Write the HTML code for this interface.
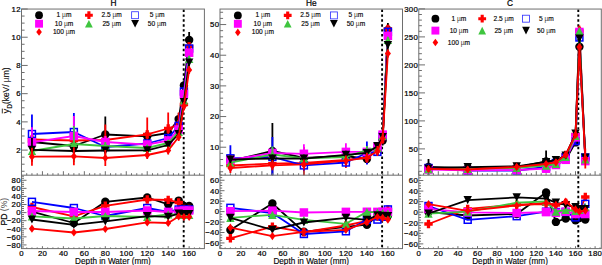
<!DOCTYPE html><html><head><meta charset="utf-8"><style>html,body{margin:0;padding:0;background:#fff;}svg{display:block;}text{font-family:"Liberation Sans", sans-serif;fill:#000;stroke:#000;stroke-width:0.22px;}.ls{letter-spacing:0.3px;}.lg{stroke-width:0.14px;}.mu{stroke-width:0;fill:#333;}</style></head><body>
<svg width="602" height="265" viewBox="0 0 602 265">
<rect width="602" height="265" fill="#fff"/>
<clipPath id="cu0"><rect x="21.5" y="9.05" width="182.9" height="166.14999999999998"/></clipPath>
<clipPath id="cl0"><rect x="21.5" y="175.2" width="182.9" height="73.4"/></clipPath>
<line x1="183.7" y1="9.55" x2="183.7" y2="248.6" stroke="#000" stroke-width="1.9" stroke-dasharray="2.4 2.5"/>
<g clip-path="url(#cu0)">
<polyline points="31.95,142 73.87,146 105.31,134.5 147.23,136.3 168.19,133 178.67,119.1 183.91,85.5 189.15,40" fill="none" stroke="#000000" stroke-width="1.8" stroke-linejoin="round"/>
<line x1="31.95" y1="136" x2="31.95" y2="148" stroke="#000000" stroke-width="1.8"/>
<line x1="73.87" y1="140" x2="73.87" y2="152" stroke="#000000" stroke-width="1.8"/>
<line x1="105.31" y1="116.5" x2="105.31" y2="152.5" stroke="#000000" stroke-width="1.8"/>
<line x1="147.23" y1="130.3" x2="147.23" y2="142.3" stroke="#000000" stroke-width="1.8"/>
<line x1="168.19" y1="128" x2="168.19" y2="138" stroke="#000000" stroke-width="1.8"/>
<line x1="178.67" y1="113.1" x2="178.67" y2="125.1" stroke="#000000" stroke-width="1.8"/>
<line x1="183.91" y1="81.5" x2="183.91" y2="89.5" stroke="#000000" stroke-width="1.8"/>
<line x1="189.15" y1="32" x2="189.15" y2="48" stroke="#000000" stroke-width="1.8"/>
<circle cx="31.95" cy="142" r="4.21" fill="#000000"/>
<circle cx="73.87" cy="146" r="4.21" fill="#000000"/>
<circle cx="105.31" cy="134.5" r="4.21" fill="#000000"/>
<circle cx="147.23" cy="136.3" r="4.21" fill="#000000"/>
<circle cx="168.19" cy="133" r="4.21" fill="#000000"/>
<circle cx="178.67" cy="119.1" r="4.21" fill="#000000"/>
<circle cx="183.91" cy="85.5" r="4.21" fill="#000000"/>
<circle cx="189.15" cy="40" r="4.21" fill="#000000"/>
<polyline points="31.95,139.5 73.87,140.5 105.31,140 147.23,134.4 168.19,128.5 178.67,124.5 183.91,104.5 189.15,46.5" fill="none" stroke="#ff0000" stroke-width="1.8" stroke-linejoin="round"/>
<line x1="31.95" y1="134.5" x2="31.95" y2="144.5" stroke="#ff0000" stroke-width="1.8"/>
<line x1="73.87" y1="135.5" x2="73.87" y2="145.5" stroke="#ff0000" stroke-width="1.8"/>
<line x1="105.31" y1="124.5" x2="105.31" y2="155.5" stroke="#ff0000" stroke-width="1.8"/>
<line x1="147.23" y1="117.4" x2="147.23" y2="151.4" stroke="#ff0000" stroke-width="1.8"/>
<line x1="168.19" y1="112.5" x2="168.19" y2="144.5" stroke="#ff0000" stroke-width="1.8"/>
<line x1="178.67" y1="112.5" x2="178.67" y2="136.5" stroke="#ff0000" stroke-width="1.8"/>
<line x1="183.91" y1="98.5" x2="183.91" y2="110.5" stroke="#ff0000" stroke-width="1.8"/>
<line x1="189.15" y1="42.5" x2="189.15" y2="50.5" stroke="#ff0000" stroke-width="1.8"/>
<path d="M30.28,135.29H33.62V137.83H36.16V141.17H33.62V143.71H30.28V141.17H27.74V137.83H30.28Z" fill="#ff0000"/>
<path d="M72.2,136.29H75.54V138.83H78.08V142.17H75.54V144.71H72.2V142.17H69.66V138.83H72.2Z" fill="#ff0000"/>
<path d="M103.64,135.79H106.98V138.33H109.52V141.67H106.98V144.21H103.64V141.67H101.1V138.33H103.64Z" fill="#ff0000"/>
<path d="M145.56,130.19H148.9V132.73H151.44V136.07H148.9V138.61H145.56V136.07H143.02V132.73H145.56Z" fill="#ff0000"/>
<path d="M166.52,124.29H169.86V126.83H172.4V130.17H169.86V132.71H166.52V130.17H163.98V126.83H166.52Z" fill="#ff0000"/>
<path d="M177,120.29H180.34V122.83H182.88V126.17H180.34V128.71H177V126.17H174.46V122.83H177Z" fill="#ff0000"/>
<path d="M182.24,100.29H185.58V102.83H188.12V106.17H185.58V108.71H182.24V106.17H179.7V102.83H182.24Z" fill="#ff0000"/>
<path d="M187.48,42.29H190.82V44.83H193.36V48.17H190.82V50.71H187.48V48.17H184.94V44.83H187.48Z" fill="#ff0000"/>
<polyline points="31.95,134 73.87,132 105.31,147 147.23,143.5 168.19,138 178.67,125.8 183.91,91.5 189.15,48.5" fill="none" stroke="#0000ff" stroke-width="1.8" stroke-linejoin="round"/>
<line x1="31.95" y1="114.5" x2="31.95" y2="153.5" stroke="#0000ff" stroke-width="1.8"/>
<line x1="73.87" y1="113" x2="73.87" y2="151" stroke="#0000ff" stroke-width="1.8"/>
<line x1="105.31" y1="143" x2="105.31" y2="151" stroke="#0000ff" stroke-width="1.8"/>
<line x1="147.23" y1="140.5" x2="147.23" y2="146.5" stroke="#0000ff" stroke-width="1.8"/>
<line x1="168.19" y1="135" x2="168.19" y2="141" stroke="#0000ff" stroke-width="1.8"/>
<line x1="178.67" y1="122.8" x2="178.67" y2="128.8" stroke="#0000ff" stroke-width="1.8"/>
<line x1="183.91" y1="88.5" x2="183.91" y2="94.5" stroke="#0000ff" stroke-width="1.8"/>
<line x1="189.15" y1="45.5" x2="189.15" y2="51.5" stroke="#0000ff" stroke-width="1.8"/>
<rect x="28.49" y="130.54" width="6.92" height="6.92" fill="none" stroke="#0000ff" stroke-width="1.5"/>
<rect x="70.41" y="128.54" width="6.92" height="6.92" fill="none" stroke="#0000ff" stroke-width="1.5"/>
<rect x="101.85" y="143.54" width="6.92" height="6.92" fill="none" stroke="#0000ff" stroke-width="1.5"/>
<rect x="143.77" y="140.04" width="6.92" height="6.92" fill="none" stroke="#0000ff" stroke-width="1.5"/>
<rect x="164.73" y="134.54" width="6.92" height="6.92" fill="none" stroke="#0000ff" stroke-width="1.5"/>
<rect x="175.21" y="122.34" width="6.92" height="6.92" fill="none" stroke="#0000ff" stroke-width="1.5"/>
<rect x="180.45" y="88.04" width="6.92" height="6.92" fill="none" stroke="#0000ff" stroke-width="1.5"/>
<rect x="185.69" y="45.04" width="6.92" height="6.92" fill="none" stroke="#0000ff" stroke-width="1.5"/>
<polyline points="31.95,142.3 73.87,136 105.31,142 147.23,144.6 168.19,140.5 178.67,129.5 183.91,94 189.15,52.7" fill="none" stroke="#ff00ff" stroke-width="1.8" stroke-linejoin="round"/>
<line x1="31.95" y1="127.3" x2="31.95" y2="157.3" stroke="#ff00ff" stroke-width="1.8"/>
<line x1="73.87" y1="116" x2="73.87" y2="156" stroke="#ff00ff" stroke-width="1.8"/>
<line x1="105.31" y1="136" x2="105.31" y2="148" stroke="#ff00ff" stroke-width="1.8"/>
<line x1="147.23" y1="140.6" x2="147.23" y2="148.6" stroke="#ff00ff" stroke-width="1.8"/>
<line x1="168.19" y1="136.5" x2="168.19" y2="144.5" stroke="#ff00ff" stroke-width="1.8"/>
<line x1="178.67" y1="125.5" x2="178.67" y2="133.5" stroke="#ff00ff" stroke-width="1.8"/>
<line x1="183.91" y1="90" x2="183.91" y2="98" stroke="#ff00ff" stroke-width="1.8"/>
<line x1="189.15" y1="48.7" x2="189.15" y2="56.7" stroke="#ff00ff" stroke-width="1.8"/>
<rect x="27.68" y="138.03" width="8.53" height="8.53" fill="#ff00ff"/>
<rect x="69.6" y="131.73" width="8.53" height="8.53" fill="#ff00ff"/>
<rect x="101.04" y="137.73" width="8.53" height="8.53" fill="#ff00ff"/>
<rect x="142.96" y="140.33" width="8.53" height="8.53" fill="#ff00ff"/>
<rect x="163.92" y="136.23" width="8.53" height="8.53" fill="#ff00ff"/>
<rect x="174.4" y="125.23" width="8.53" height="8.53" fill="#ff00ff"/>
<rect x="179.64" y="89.73" width="8.53" height="8.53" fill="#ff00ff"/>
<rect x="184.88" y="48.43" width="8.53" height="8.53" fill="#ff00ff"/>
<polyline points="31.95,151 73.87,144 105.31,146 147.23,148 168.19,143 178.67,132 183.91,100.5 189.15,59" fill="none" stroke="#3fc53f" stroke-width="1.8" stroke-linejoin="round"/>
<line x1="31.95" y1="148" x2="31.95" y2="154" stroke="#3fc53f" stroke-width="1.8"/>
<line x1="73.87" y1="126" x2="73.87" y2="162" stroke="#3fc53f" stroke-width="1.8"/>
<line x1="105.31" y1="142" x2="105.31" y2="150" stroke="#3fc53f" stroke-width="1.8"/>
<line x1="147.23" y1="145" x2="147.23" y2="151" stroke="#3fc53f" stroke-width="1.8"/>
<line x1="168.19" y1="140" x2="168.19" y2="146" stroke="#3fc53f" stroke-width="1.8"/>
<line x1="178.67" y1="129" x2="178.67" y2="135" stroke="#3fc53f" stroke-width="1.8"/>
<line x1="183.91" y1="97.5" x2="183.91" y2="103.5" stroke="#3fc53f" stroke-width="1.8"/>
<line x1="189.15" y1="56" x2="189.15" y2="62" stroke="#3fc53f" stroke-width="1.8"/>
<path d="M31.95,146.9L36.16,155.1L27.74,155.1Z" fill="#3fc53f"/>
<path d="M73.87,139.9L78.08,148.1L69.66,148.1Z" fill="#3fc53f"/>
<path d="M105.31,141.9L109.52,150.1L101.1,150.1Z" fill="#3fc53f"/>
<path d="M147.23,143.9L151.44,152.1L143.02,152.1Z" fill="#3fc53f"/>
<path d="M168.19,138.9L172.4,147.1L163.98,147.1Z" fill="#3fc53f"/>
<path d="M178.67,127.9L182.88,136.1L174.46,136.1Z" fill="#3fc53f"/>
<path d="M183.91,96.4L188.12,104.6L179.7,104.6Z" fill="#3fc53f"/>
<path d="M189.15,54.9L193.36,63.1L184.94,63.1Z" fill="#3fc53f"/>
<polyline points="31.95,149.8 73.87,151 105.31,150.5 147.23,150.3 168.19,145 178.67,134 183.91,102 189.15,62.5" fill="none" stroke="#000000" stroke-width="1.8" stroke-linejoin="round"/>
<line x1="31.95" y1="137.8" x2="31.95" y2="161.8" stroke="#000000" stroke-width="1.8"/>
<line x1="73.87" y1="148" x2="73.87" y2="154" stroke="#000000" stroke-width="1.8"/>
<line x1="105.31" y1="147.5" x2="105.31" y2="153.5" stroke="#000000" stroke-width="1.8"/>
<line x1="147.23" y1="147.3" x2="147.23" y2="153.3" stroke="#000000" stroke-width="1.8"/>
<line x1="168.19" y1="142" x2="168.19" y2="148" stroke="#000000" stroke-width="1.8"/>
<line x1="178.67" y1="131" x2="178.67" y2="137" stroke="#000000" stroke-width="1.8"/>
<line x1="183.91" y1="99" x2="183.91" y2="105" stroke="#000000" stroke-width="1.8"/>
<line x1="189.15" y1="59.5" x2="189.15" y2="65.5" stroke="#000000" stroke-width="1.8"/>
<path d="M27.74,145.7L36.16,145.7L31.95,153.9Z" fill="#000000"/>
<path d="M69.66,146.9L78.08,146.9L73.87,155.1Z" fill="#000000"/>
<path d="M101.1,146.4L109.52,146.4L105.31,154.6Z" fill="#000000"/>
<path d="M143.02,146.2L151.44,146.2L147.23,154.4Z" fill="#000000"/>
<path d="M163.98,140.9L172.4,140.9L168.19,149.1Z" fill="#000000"/>
<path d="M174.46,129.9L182.88,129.9L178.67,138.1Z" fill="#000000"/>
<path d="M179.7,97.9L188.12,97.9L183.91,106.1Z" fill="#000000"/>
<path d="M184.94,58.4L193.36,58.4L189.15,66.6Z" fill="#000000"/>
<polyline points="31.95,156.7 73.87,156.3 105.31,158 147.23,155 168.19,150.5 178.67,137 183.91,106 189.15,70" fill="none" stroke="#ff0000" stroke-width="1.8" stroke-linejoin="round"/>
<line x1="31.95" y1="147.7" x2="31.95" y2="165.7" stroke="#ff0000" stroke-width="1.8"/>
<line x1="73.87" y1="147.3" x2="73.87" y2="165.3" stroke="#ff0000" stroke-width="1.8"/>
<line x1="105.31" y1="150" x2="105.31" y2="166" stroke="#ff0000" stroke-width="1.8"/>
<line x1="147.23" y1="151" x2="147.23" y2="159" stroke="#ff0000" stroke-width="1.8"/>
<line x1="168.19" y1="146.5" x2="168.19" y2="154.5" stroke="#ff0000" stroke-width="1.8"/>
<line x1="178.67" y1="133" x2="178.67" y2="141" stroke="#ff0000" stroke-width="1.8"/>
<line x1="183.91" y1="102" x2="183.91" y2="110" stroke="#ff0000" stroke-width="1.8"/>
<line x1="189.15" y1="66" x2="189.15" y2="74" stroke="#ff0000" stroke-width="1.8"/>
<path d="M31.95,152.6L34.97,156.7L31.95,160.8L28.93,156.7Z" fill="#ff0000"/>
<path d="M73.87,152.2L76.89,156.3L73.87,160.4L70.85,156.3Z" fill="#ff0000"/>
<path d="M105.31,153.9L108.33,158L105.31,162.1L102.29,158Z" fill="#ff0000"/>
<path d="M147.23,150.9L150.25,155L147.23,159.1L144.21,155Z" fill="#ff0000"/>
<path d="M168.19,146.4L171.21,150.5L168.19,154.6L165.17,150.5Z" fill="#ff0000"/>
<path d="M178.67,132.9L181.69,137L178.67,141.1L175.65,137Z" fill="#ff0000"/>
<path d="M183.91,101.9L186.93,106L183.91,110.1L180.89,106Z" fill="#ff0000"/>
<path d="M189.15,65.9L192.17,70L189.15,74.1L186.13,70Z" fill="#ff0000"/>
</g>
<g clip-path="url(#cl0)">
<polyline points="31.95,211.7 73.87,223 105.31,201.8 147.23,197.5 168.19,204.3 178.67,200.6 183.91,206 189.15,206" fill="none" stroke="#000000" stroke-width="1.8" stroke-linejoin="round"/>
<circle cx="31.95" cy="211.7" r="4.21" fill="#000000"/>
<circle cx="73.87" cy="223" r="4.21" fill="#000000"/>
<circle cx="105.31" cy="201.8" r="4.21" fill="#000000"/>
<circle cx="147.23" cy="197.5" r="4.21" fill="#000000"/>
<circle cx="168.19" cy="204.3" r="4.21" fill="#000000"/>
<circle cx="178.67" cy="200.6" r="4.21" fill="#000000"/>
<circle cx="183.91" cy="206" r="4.21" fill="#000000"/>
<circle cx="189.15" cy="206" r="4.21" fill="#000000"/>
<polyline points="31.95,207 73.87,216.4 105.31,205.8 147.23,199.5 168.19,199.9 178.67,202.5 183.91,209 189.15,209" fill="none" stroke="#ff0000" stroke-width="1.8" stroke-linejoin="round"/>
<path d="M30.28,202.79H33.62V205.33H36.16V208.67H33.62V211.21H30.28V208.67H27.74V205.33H30.28Z" fill="#ff0000"/>
<path d="M72.2,212.19H75.54V214.73H78.08V218.07H75.54V220.61H72.2V218.07H69.66V214.73H72.2Z" fill="#ff0000"/>
<path d="M103.64,201.59H106.98V204.13H109.52V207.47H106.98V210.01H103.64V207.47H101.1V204.13H103.64Z" fill="#ff0000"/>
<path d="M145.56,195.29H148.9V197.83H151.44V201.17H148.9V203.71H145.56V201.17H143.02V197.83H145.56Z" fill="#ff0000"/>
<path d="M166.52,195.69H169.86V198.23H172.4V201.57H169.86V204.11H166.52V201.57H163.98V198.23H166.52Z" fill="#ff0000"/>
<path d="M177,198.29H180.34V200.83H182.88V204.17H180.34V206.71H177V204.17H174.46V200.83H177Z" fill="#ff0000"/>
<path d="M182.24,204.79H185.58V207.33H188.12V210.67H185.58V213.21H182.24V210.67H179.7V207.33H182.24Z" fill="#ff0000"/>
<path d="M187.48,204.79H190.82V207.33H193.36V210.67H190.82V213.21H187.48V210.67H184.94V207.33H187.48Z" fill="#ff0000"/>
<polyline points="31.95,201.8 73.87,208 105.31,216 147.23,208 168.19,212 178.67,209.5 183.91,209.5 189.15,209.5" fill="none" stroke="#0000ff" stroke-width="1.8" stroke-linejoin="round"/>
<rect x="28.49" y="198.34" width="6.92" height="6.92" fill="none" stroke="#0000ff" stroke-width="1.5"/>
<rect x="70.41" y="204.54" width="6.92" height="6.92" fill="none" stroke="#0000ff" stroke-width="1.5"/>
<rect x="101.85" y="212.54" width="6.92" height="6.92" fill="none" stroke="#0000ff" stroke-width="1.5"/>
<rect x="143.77" y="204.54" width="6.92" height="6.92" fill="none" stroke="#0000ff" stroke-width="1.5"/>
<rect x="164.73" y="208.54" width="6.92" height="6.92" fill="none" stroke="#0000ff" stroke-width="1.5"/>
<rect x="175.21" y="206.04" width="6.92" height="6.92" fill="none" stroke="#0000ff" stroke-width="1.5"/>
<rect x="180.45" y="206.04" width="6.92" height="6.92" fill="none" stroke="#0000ff" stroke-width="1.5"/>
<rect x="185.69" y="206.04" width="6.92" height="6.92" fill="none" stroke="#0000ff" stroke-width="1.5"/>
<polyline points="31.95,211 73.87,212 105.31,212 147.23,210.5 168.19,212 178.67,211 183.91,210.5 189.15,210.5" fill="none" stroke="#ff00ff" stroke-width="1.8" stroke-linejoin="round"/>
<rect x="27.68" y="206.73" width="8.53" height="8.53" fill="#ff00ff"/>
<rect x="69.6" y="207.73" width="8.53" height="8.53" fill="#ff00ff"/>
<rect x="101.04" y="207.73" width="8.53" height="8.53" fill="#ff00ff"/>
<rect x="142.96" y="206.23" width="8.53" height="8.53" fill="#ff00ff"/>
<rect x="163.92" y="207.73" width="8.53" height="8.53" fill="#ff00ff"/>
<rect x="174.4" y="206.73" width="8.53" height="8.53" fill="#ff00ff"/>
<rect x="179.64" y="206.23" width="8.53" height="8.53" fill="#ff00ff"/>
<rect x="184.88" y="206.23" width="8.53" height="8.53" fill="#ff00ff"/>
<polyline points="31.95,216.4 73.87,218.5 105.31,216 147.23,217 168.19,214.4 178.67,214.5 183.91,215 189.15,215" fill="none" stroke="#3fc53f" stroke-width="1.8" stroke-linejoin="round"/>
<path d="M31.95,212.3L36.16,220.5L27.74,220.5Z" fill="#3fc53f"/>
<path d="M73.87,214.4L78.08,222.6L69.66,222.6Z" fill="#3fc53f"/>
<path d="M105.31,211.9L109.52,220.1L101.1,220.1Z" fill="#3fc53f"/>
<path d="M147.23,212.9L151.44,221.1L143.02,221.1Z" fill="#3fc53f"/>
<path d="M168.19,210.3L172.4,218.5L163.98,218.5Z" fill="#3fc53f"/>
<path d="M178.67,210.4L182.88,218.6L174.46,218.6Z" fill="#3fc53f"/>
<path d="M183.91,210.9L188.12,219.1L179.7,219.1Z" fill="#3fc53f"/>
<path d="M189.15,210.9L193.36,219.1L184.94,219.1Z" fill="#3fc53f"/>
<polyline points="31.95,219.5 73.87,224.9 105.31,221.3 147.23,216.2 168.19,216.8 178.67,213.5 183.91,214 189.15,214" fill="none" stroke="#000000" stroke-width="1.8" stroke-linejoin="round"/>
<path d="M27.74,215.4L36.16,215.4L31.95,223.6Z" fill="#000000"/>
<path d="M69.66,220.8L78.08,220.8L73.87,229Z" fill="#000000"/>
<path d="M101.1,217.2L109.52,217.2L105.31,225.4Z" fill="#000000"/>
<path d="M143.02,212.1L151.44,212.1L147.23,220.3Z" fill="#000000"/>
<path d="M163.98,212.7L172.4,212.7L168.19,220.9Z" fill="#000000"/>
<path d="M174.46,209.4L182.88,209.4L178.67,217.6Z" fill="#000000"/>
<path d="M179.7,209.9L188.12,209.9L183.91,218.1Z" fill="#000000"/>
<path d="M184.94,209.9L193.36,209.9L189.15,218.1Z" fill="#000000"/>
<polyline points="31.95,228.7 73.87,232.5 105.31,229 147.23,222.4 168.19,223 178.67,216.4 183.91,217 189.15,217" fill="none" stroke="#ff0000" stroke-width="1.8" stroke-linejoin="round"/>
<path d="M31.95,224.6L34.97,228.7L31.95,232.8L28.93,228.7Z" fill="#ff0000"/>
<path d="M73.87,228.4L76.89,232.5L73.87,236.6L70.85,232.5Z" fill="#ff0000"/>
<path d="M105.31,224.9L108.33,229L105.31,233.1L102.29,229Z" fill="#ff0000"/>
<path d="M147.23,218.3L150.25,222.4L147.23,226.5L144.21,222.4Z" fill="#ff0000"/>
<path d="M168.19,218.9L171.21,223L168.19,227.1L165.17,223Z" fill="#ff0000"/>
<path d="M178.67,212.3L181.69,216.4L178.67,220.5L175.65,216.4Z" fill="#ff0000"/>
<path d="M183.91,212.9L186.93,217L183.91,221.1L180.89,217Z" fill="#ff0000"/>
<path d="M189.15,212.9L192.17,217L189.15,221.1L186.13,217Z" fill="#ff0000"/>
</g>
<rect x="21.5" y="9.05" width="182.9" height="239.55" fill="none" stroke="#6e6e6e" stroke-width="1"/>
<line x1="21.5" y1="175.2" x2="204.4" y2="175.2" stroke="#6e6e6e" stroke-width="1"/>
<path d="M21.47,175.2v-4M21.47,248.6v-2.4M26.71,175.2v-2M26.71,248.6v-1.2M31.95,175.2v-2M31.95,248.6v-1.2M37.19,175.2v-2M37.19,248.6v-1.2M42.43,175.2v-4M42.43,248.6v-2.4M47.67,175.2v-2M47.67,248.6v-1.2M52.91,175.2v-2M52.91,248.6v-1.2M58.15,175.2v-2M58.15,248.6v-1.2M63.39,175.2v-4M63.39,248.6v-2.4M68.63,175.2v-2M68.63,248.6v-1.2M73.87,175.2v-2M73.87,248.6v-1.2M79.11,175.2v-2M79.11,248.6v-1.2M84.35,175.2v-4M84.35,248.6v-2.4M89.59,175.2v-2M89.59,248.6v-1.2M94.83,175.2v-2M94.83,248.6v-1.2M100.07,175.2v-2M100.07,248.6v-1.2M105.31,175.2v-4M105.31,248.6v-2.4M110.55,175.2v-2M110.55,248.6v-1.2M115.79,175.2v-2M115.79,248.6v-1.2M121.03,175.2v-2M121.03,248.6v-1.2M126.27,175.2v-4M126.27,248.6v-2.4M131.51,175.2v-2M131.51,248.6v-1.2M136.75,175.2v-2M136.75,248.6v-1.2M141.99,175.2v-2M141.99,248.6v-1.2M147.23,175.2v-4M147.23,248.6v-2.4M152.47,175.2v-2M152.47,248.6v-1.2M157.71,175.2v-2M157.71,248.6v-1.2M162.95,175.2v-2M162.95,248.6v-1.2M168.19,175.2v-4M168.19,248.6v-2.4M173.43,175.2v-2M173.43,248.6v-1.2M178.67,175.2v-2M178.67,248.6v-1.2M183.91,175.2v-2M183.91,248.6v-1.2M189.15,175.2v-4M189.15,248.6v-2.4M194.39,175.2v-2M194.39,248.6v-1.2M199.63,175.2v-2M199.63,248.6v-1.2" stroke="#6e6e6e" stroke-width="1" fill="none"/>
<text x="21.62" y="256.3" font-size="7.8" text-anchor="middle" class="ls">0</text>
<text x="42.58" y="256.3" font-size="7.8" text-anchor="middle" class="ls">20</text>
<text x="63.54" y="256.3" font-size="7.8" text-anchor="middle" class="ls">40</text>
<text x="84.5" y="256.3" font-size="7.8" text-anchor="middle" class="ls">60</text>
<text x="105.46" y="256.3" font-size="7.8" text-anchor="middle" class="ls">80</text>
<text x="126.42" y="256.3" font-size="7.8" text-anchor="middle" class="ls">100</text>
<text x="147.38" y="256.3" font-size="7.8" text-anchor="middle" class="ls">120</text>
<text x="168.34" y="256.3" font-size="7.8" text-anchor="middle" class="ls">140</text>
<text x="189.3" y="256.3" font-size="7.8" text-anchor="middle" class="ls">160</text>
<text x="112.95" y="263.9" font-size="8.2" text-anchor="middle" style="stroke-width:0.12px">Depth in Water (mm)</text>
<clipPath id="cu1"><rect x="220.0" y="9.05" width="182.5" height="166.14999999999998"/></clipPath>
<clipPath id="cl1"><rect x="220.0" y="175.2" width="182.5" height="73.4"/></clipPath>
<line x1="382.1" y1="9.55" x2="382.1" y2="248.6" stroke="#000" stroke-width="1.9" stroke-dasharray="2.4 2.5"/>
<g clip-path="url(#cu1)">
<polyline points="230.4,161 272.4,151 303.9,158 345.9,156 366.9,159 377.4,148 382.65,140.4 387.9,30" fill="none" stroke="#000000" stroke-width="1.8" stroke-linejoin="round"/>
<line x1="230.4" y1="155" x2="230.4" y2="167" stroke="#000000" stroke-width="1.8"/>
<line x1="272.4" y1="123" x2="272.4" y2="179" stroke="#000000" stroke-width="1.8"/>
<line x1="303.9" y1="153" x2="303.9" y2="163" stroke="#000000" stroke-width="1.8"/>
<line x1="345.9" y1="151" x2="345.9" y2="161" stroke="#000000" stroke-width="1.8"/>
<line x1="366.9" y1="154" x2="366.9" y2="164" stroke="#000000" stroke-width="1.8"/>
<line x1="377.4" y1="143" x2="377.4" y2="153" stroke="#000000" stroke-width="1.8"/>
<line x1="382.65" y1="135.4" x2="382.65" y2="145.4" stroke="#000000" stroke-width="1.8"/>
<line x1="387.9" y1="23" x2="387.9" y2="37" stroke="#000000" stroke-width="1.8"/>
<circle cx="230.4" cy="161" r="4.21" fill="#000000"/>
<circle cx="272.4" cy="151" r="4.21" fill="#000000"/>
<circle cx="303.9" cy="158" r="4.21" fill="#000000"/>
<circle cx="345.9" cy="156" r="4.21" fill="#000000"/>
<circle cx="366.9" cy="159" r="4.21" fill="#000000"/>
<circle cx="377.4" cy="148" r="4.21" fill="#000000"/>
<circle cx="382.65" cy="140.4" r="4.21" fill="#000000"/>
<circle cx="387.9" cy="30" r="4.21" fill="#000000"/>
<polyline points="230.4,165.5 272.4,163.6 303.9,163 345.9,160 366.9,157.5 377.4,151 382.65,138.5 387.9,29" fill="none" stroke="#ff0000" stroke-width="1.8" stroke-linejoin="round"/>
<line x1="230.4" y1="160.5" x2="230.4" y2="170.5" stroke="#ff0000" stroke-width="1.8"/>
<line x1="272.4" y1="158.6" x2="272.4" y2="168.6" stroke="#ff0000" stroke-width="1.8"/>
<line x1="303.9" y1="147" x2="303.9" y2="179" stroke="#ff0000" stroke-width="1.8"/>
<line x1="345.9" y1="152" x2="345.9" y2="168" stroke="#ff0000" stroke-width="1.8"/>
<line x1="366.9" y1="152.5" x2="366.9" y2="162.5" stroke="#ff0000" stroke-width="1.8"/>
<line x1="377.4" y1="146" x2="377.4" y2="156" stroke="#ff0000" stroke-width="1.8"/>
<line x1="382.65" y1="133.5" x2="382.65" y2="143.5" stroke="#ff0000" stroke-width="1.8"/>
<line x1="387.9" y1="25" x2="387.9" y2="33" stroke="#ff0000" stroke-width="1.8"/>
<path d="M228.73,161.29H232.07V163.83H234.61V167.17H232.07V169.71H228.73V167.17H226.19V163.83H228.73Z" fill="#ff0000"/>
<path d="M270.73,159.39H274.07V161.93H276.61V165.27H274.07V167.81H270.73V165.27H268.19V161.93H270.73Z" fill="#ff0000"/>
<path d="M302.23,158.79H305.57V161.33H308.11V164.67H305.57V167.21H302.23V164.67H299.69V161.33H302.23Z" fill="#ff0000"/>
<path d="M344.23,155.79H347.57V158.33H350.11V161.67H347.57V164.21H344.23V161.67H341.69V158.33H344.23Z" fill="#ff0000"/>
<path d="M365.23,153.29H368.57V155.83H371.11V159.17H368.57V161.71H365.23V159.17H362.69V155.83H365.23Z" fill="#ff0000"/>
<path d="M375.73,146.79H379.07V149.33H381.61V152.67H379.07V155.21H375.73V152.67H373.19V149.33H375.73Z" fill="#ff0000"/>
<path d="M380.98,134.29H384.32V136.83H386.86V140.17H384.32V142.71H380.98V140.17H378.44V136.83H380.98Z" fill="#ff0000"/>
<path d="M386.23,24.79H389.57V27.33H392.11V30.67H389.57V33.21H386.23V30.67H383.69V27.33H386.23Z" fill="#ff0000"/>
<polyline points="230.4,158.3 272.4,157 303.9,165.4 345.9,162.5 366.9,153 377.4,151.9 382.65,136 387.9,31.8" fill="none" stroke="#0000ff" stroke-width="1.8" stroke-linejoin="round"/>
<line x1="230.4" y1="145.3" x2="230.4" y2="171.3" stroke="#0000ff" stroke-width="1.8"/>
<line x1="272.4" y1="137" x2="272.4" y2="177" stroke="#0000ff" stroke-width="1.8"/>
<line x1="303.9" y1="160.4" x2="303.9" y2="170.4" stroke="#0000ff" stroke-width="1.8"/>
<line x1="345.9" y1="158.5" x2="345.9" y2="166.5" stroke="#0000ff" stroke-width="1.8"/>
<line x1="366.9" y1="141.5" x2="366.9" y2="164.5" stroke="#0000ff" stroke-width="1.8"/>
<line x1="377.4" y1="147.9" x2="377.4" y2="155.9" stroke="#0000ff" stroke-width="1.8"/>
<line x1="382.65" y1="131" x2="382.65" y2="141" stroke="#0000ff" stroke-width="1.8"/>
<line x1="387.9" y1="27.8" x2="387.9" y2="35.8" stroke="#0000ff" stroke-width="1.8"/>
<rect x="226.94" y="154.84" width="6.92" height="6.92" fill="none" stroke="#0000ff" stroke-width="1.5"/>
<rect x="268.94" y="153.54" width="6.92" height="6.92" fill="none" stroke="#0000ff" stroke-width="1.5"/>
<rect x="300.44" y="161.94" width="6.92" height="6.92" fill="none" stroke="#0000ff" stroke-width="1.5"/>
<rect x="342.44" y="159.04" width="6.92" height="6.92" fill="none" stroke="#0000ff" stroke-width="1.5"/>
<rect x="363.44" y="149.54" width="6.92" height="6.92" fill="none" stroke="#0000ff" stroke-width="1.5"/>
<rect x="373.94" y="148.44" width="6.92" height="6.92" fill="none" stroke="#0000ff" stroke-width="1.5"/>
<rect x="379.19" y="132.54" width="6.92" height="6.92" fill="none" stroke="#0000ff" stroke-width="1.5"/>
<rect x="384.44" y="28.34" width="6.92" height="6.92" fill="none" stroke="#0000ff" stroke-width="1.5"/>
<polyline points="230.4,160 272.4,153 303.9,153.8 345.9,151.9 366.9,151.9 377.4,147.1 382.65,134.6 387.9,35.8" fill="none" stroke="#ff00ff" stroke-width="1.8" stroke-linejoin="round"/>
<line x1="230.4" y1="155" x2="230.4" y2="165" stroke="#ff00ff" stroke-width="1.8"/>
<line x1="272.4" y1="148" x2="272.4" y2="158" stroke="#ff00ff" stroke-width="1.8"/>
<line x1="303.9" y1="144.2" x2="303.9" y2="163.4" stroke="#ff00ff" stroke-width="1.8"/>
<line x1="345.9" y1="143.3" x2="345.9" y2="160.5" stroke="#ff00ff" stroke-width="1.8"/>
<line x1="366.9" y1="146.9" x2="366.9" y2="156.9" stroke="#ff00ff" stroke-width="1.8"/>
<line x1="377.4" y1="142.1" x2="377.4" y2="152.1" stroke="#ff00ff" stroke-width="1.8"/>
<line x1="382.65" y1="129.6" x2="382.65" y2="139.6" stroke="#ff00ff" stroke-width="1.8"/>
<line x1="387.9" y1="31.8" x2="387.9" y2="39.8" stroke="#ff00ff" stroke-width="1.8"/>
<rect x="226.13" y="155.73" width="8.53" height="8.53" fill="#ff00ff"/>
<rect x="268.13" y="148.73" width="8.53" height="8.53" fill="#ff00ff"/>
<rect x="299.63" y="149.53" width="8.53" height="8.53" fill="#ff00ff"/>
<rect x="341.63" y="147.63" width="8.53" height="8.53" fill="#ff00ff"/>
<rect x="362.63" y="147.63" width="8.53" height="8.53" fill="#ff00ff"/>
<rect x="373.13" y="142.83" width="8.53" height="8.53" fill="#ff00ff"/>
<rect x="378.38" y="130.33" width="8.53" height="8.53" fill="#ff00ff"/>
<rect x="383.63" y="31.53" width="8.53" height="8.53" fill="#ff00ff"/>
<polyline points="230.4,162.6 272.4,154.5 303.9,158.4 345.9,157 366.9,150 377.4,148 382.65,136 387.9,40" fill="none" stroke="#3fc53f" stroke-width="1.8" stroke-linejoin="round"/>
<line x1="230.4" y1="158.6" x2="230.4" y2="166.6" stroke="#3fc53f" stroke-width="1.8"/>
<line x1="272.4" y1="146.5" x2="272.4" y2="162.5" stroke="#3fc53f" stroke-width="1.8"/>
<line x1="303.9" y1="154.4" x2="303.9" y2="162.4" stroke="#3fc53f" stroke-width="1.8"/>
<line x1="345.9" y1="153" x2="345.9" y2="161" stroke="#3fc53f" stroke-width="1.8"/>
<line x1="366.9" y1="146" x2="366.9" y2="154" stroke="#3fc53f" stroke-width="1.8"/>
<line x1="377.4" y1="144" x2="377.4" y2="152" stroke="#3fc53f" stroke-width="1.8"/>
<line x1="382.65" y1="132" x2="382.65" y2="140" stroke="#3fc53f" stroke-width="1.8"/>
<line x1="387.9" y1="37" x2="387.9" y2="43" stroke="#3fc53f" stroke-width="1.8"/>
<path d="M230.4,158.5L234.61,166.7L226.19,166.7Z" fill="#3fc53f"/>
<path d="M272.4,150.4L276.61,158.6L268.19,158.6Z" fill="#3fc53f"/>
<path d="M303.9,154.3L308.11,162.5L299.69,162.5Z" fill="#3fc53f"/>
<path d="M345.9,152.9L350.11,161.1L341.69,161.1Z" fill="#3fc53f"/>
<path d="M366.9,145.9L371.11,154.1L362.69,154.1Z" fill="#3fc53f"/>
<path d="M377.4,143.9L381.61,152.1L373.19,152.1Z" fill="#3fc53f"/>
<path d="M382.65,131.9L386.86,140.1L378.44,140.1Z" fill="#3fc53f"/>
<path d="M387.9,35.9L392.11,44.1L383.69,44.1Z" fill="#3fc53f"/>
<polyline points="230.4,159.5 272.4,158.5 303.9,158.7 345.9,154.8 366.9,153 377.4,146.2 382.65,137 387.9,45" fill="none" stroke="#000000" stroke-width="1.8" stroke-linejoin="round"/>
<line x1="230.4" y1="155.5" x2="230.4" y2="163.5" stroke="#000000" stroke-width="1.8"/>
<line x1="272.4" y1="154.5" x2="272.4" y2="162.5" stroke="#000000" stroke-width="1.8"/>
<line x1="303.9" y1="154.7" x2="303.9" y2="162.7" stroke="#000000" stroke-width="1.8"/>
<line x1="345.9" y1="150.8" x2="345.9" y2="158.8" stroke="#000000" stroke-width="1.8"/>
<line x1="366.9" y1="149" x2="366.9" y2="157" stroke="#000000" stroke-width="1.8"/>
<line x1="377.4" y1="142.2" x2="377.4" y2="150.2" stroke="#000000" stroke-width="1.8"/>
<line x1="382.65" y1="133" x2="382.65" y2="141" stroke="#000000" stroke-width="1.8"/>
<line x1="387.9" y1="42" x2="387.9" y2="48" stroke="#000000" stroke-width="1.8"/>
<path d="M226.19,155.4L234.61,155.4L230.4,163.6Z" fill="#000000"/>
<path d="M268.19,154.4L276.61,154.4L272.4,162.6Z" fill="#000000"/>
<path d="M299.69,154.6L308.11,154.6L303.9,162.8Z" fill="#000000"/>
<path d="M341.69,150.7L350.11,150.7L345.9,158.9Z" fill="#000000"/>
<path d="M362.69,148.9L371.11,148.9L366.9,157.1Z" fill="#000000"/>
<path d="M373.19,142.1L381.61,142.1L377.4,150.3Z" fill="#000000"/>
<path d="M378.44,132.9L386.86,132.9L382.65,141.1Z" fill="#000000"/>
<path d="M383.69,40.9L392.11,40.9L387.9,49.1Z" fill="#000000"/>
<polyline points="230.4,168 272.4,165.3 303.9,164.4 345.9,160.6 366.9,157.7 377.4,151 382.65,138.5 387.9,53.5" fill="none" stroke="#ff0000" stroke-width="1.8" stroke-linejoin="round"/>
<line x1="230.4" y1="163" x2="230.4" y2="173" stroke="#ff0000" stroke-width="1.8"/>
<line x1="272.4" y1="160.3" x2="272.4" y2="170.3" stroke="#ff0000" stroke-width="1.8"/>
<line x1="303.9" y1="159.4" x2="303.9" y2="169.4" stroke="#ff0000" stroke-width="1.8"/>
<line x1="345.9" y1="155.6" x2="345.9" y2="165.6" stroke="#ff0000" stroke-width="1.8"/>
<line x1="366.9" y1="152.7" x2="366.9" y2="162.7" stroke="#ff0000" stroke-width="1.8"/>
<line x1="377.4" y1="146" x2="377.4" y2="156" stroke="#ff0000" stroke-width="1.8"/>
<line x1="382.65" y1="133.5" x2="382.65" y2="143.5" stroke="#ff0000" stroke-width="1.8"/>
<line x1="387.9" y1="49.5" x2="387.9" y2="57.5" stroke="#ff0000" stroke-width="1.8"/>
<path d="M230.4,163.9L233.42,168L230.4,172.1L227.38,168Z" fill="#ff0000"/>
<path d="M272.4,161.2L275.42,165.3L272.4,169.4L269.38,165.3Z" fill="#ff0000"/>
<path d="M303.9,160.3L306.92,164.4L303.9,168.5L300.88,164.4Z" fill="#ff0000"/>
<path d="M345.9,156.5L348.92,160.6L345.9,164.7L342.88,160.6Z" fill="#ff0000"/>
<path d="M366.9,153.6L369.92,157.7L366.9,161.8L363.88,157.7Z" fill="#ff0000"/>
<path d="M377.4,146.9L380.42,151L377.4,155.1L374.38,151Z" fill="#ff0000"/>
<path d="M382.65,134.4L385.67,138.5L382.65,142.6L379.63,138.5Z" fill="#ff0000"/>
<path d="M387.9,49.4L390.92,53.5L387.9,57.6L384.88,53.5Z" fill="#ff0000"/>
</g>
<g clip-path="url(#cl1)">
<polyline points="230.4,229.9 272.4,203.5 303.9,231.8 345.9,226.8 366.9,224.7 377.4,215.8 382.65,215.8 387.9,215.8" fill="none" stroke="#000000" stroke-width="1.8" stroke-linejoin="round"/>
<circle cx="230.4" cy="229.9" r="4.21" fill="#000000"/>
<circle cx="272.4" cy="203.5" r="4.21" fill="#000000"/>
<circle cx="303.9" cy="231.8" r="4.21" fill="#000000"/>
<circle cx="345.9" cy="226.8" r="4.21" fill="#000000"/>
<circle cx="366.9" cy="224.7" r="4.21" fill="#000000"/>
<circle cx="377.4" cy="215.8" r="4.21" fill="#000000"/>
<circle cx="382.65" cy="215.8" r="4.21" fill="#000000"/>
<circle cx="387.9" cy="215.8" r="4.21" fill="#000000"/>
<polyline points="230.4,238.3 272.4,226.6 303.9,232.2 345.9,225.5 366.9,220.8 377.4,216.3 382.65,214.8 387.9,209.4" fill="none" stroke="#ff0000" stroke-width="1.8" stroke-linejoin="round"/>
<path d="M228.73,234.09H232.07V236.63H234.61V239.97H232.07V242.51H228.73V239.97H226.19V236.63H228.73Z" fill="#ff0000"/>
<path d="M270.73,222.39H274.07V224.93H276.61V228.27H274.07V230.81H270.73V228.27H268.19V224.93H270.73Z" fill="#ff0000"/>
<path d="M302.23,227.99H305.57V230.53H308.11V233.87H305.57V236.41H302.23V233.87H299.69V230.53H302.23Z" fill="#ff0000"/>
<path d="M344.23,221.29H347.57V223.83H350.11V227.17H347.57V229.71H344.23V227.17H341.69V223.83H344.23Z" fill="#ff0000"/>
<path d="M365.23,216.59H368.57V219.13H371.11V222.47H368.57V225.01H365.23V222.47H362.69V219.13H365.23Z" fill="#ff0000"/>
<path d="M375.73,212.09H379.07V214.63H381.61V217.97H379.07V220.51H375.73V217.97H373.19V214.63H375.73Z" fill="#ff0000"/>
<path d="M380.98,210.59H384.32V213.13H386.86V216.47H384.32V219.01H380.98V216.47H378.44V213.13H380.98Z" fill="#ff0000"/>
<path d="M386.23,205.19H389.57V207.73H392.11V211.07H389.57V213.61H386.23V211.07H383.69V207.73H386.23Z" fill="#ff0000"/>
<polyline points="230.4,207.8 272.4,213 303.9,234 345.9,231.3 366.9,219.8 377.4,219.6 382.65,216.8 387.9,209.4" fill="none" stroke="#0000ff" stroke-width="1.8" stroke-linejoin="round"/>
<rect x="226.94" y="204.34" width="6.92" height="6.92" fill="none" stroke="#0000ff" stroke-width="1.5"/>
<rect x="268.94" y="209.54" width="6.92" height="6.92" fill="none" stroke="#0000ff" stroke-width="1.5"/>
<rect x="300.44" y="230.54" width="6.92" height="6.92" fill="none" stroke="#0000ff" stroke-width="1.5"/>
<rect x="342.44" y="227.84" width="6.92" height="6.92" fill="none" stroke="#0000ff" stroke-width="1.5"/>
<rect x="363.44" y="216.34" width="6.92" height="6.92" fill="none" stroke="#0000ff" stroke-width="1.5"/>
<rect x="373.94" y="216.14" width="6.92" height="6.92" fill="none" stroke="#0000ff" stroke-width="1.5"/>
<rect x="379.19" y="213.34" width="6.92" height="6.92" fill="none" stroke="#0000ff" stroke-width="1.5"/>
<rect x="384.44" y="205.94" width="6.92" height="6.92" fill="none" stroke="#0000ff" stroke-width="1.5"/>
<polyline points="230.4,211.2 272.4,210.7 303.9,212.5 345.9,211.9 366.9,211.8 377.4,211.9 382.65,211.8 387.9,211.8" fill="none" stroke="#ff00ff" stroke-width="1.8" stroke-linejoin="round"/>
<rect x="226.13" y="206.93" width="8.53" height="8.53" fill="#ff00ff"/>
<rect x="268.13" y="206.43" width="8.53" height="8.53" fill="#ff00ff"/>
<rect x="299.63" y="208.23" width="8.53" height="8.53" fill="#ff00ff"/>
<rect x="341.63" y="207.63" width="8.53" height="8.53" fill="#ff00ff"/>
<rect x="362.63" y="207.53" width="8.53" height="8.53" fill="#ff00ff"/>
<rect x="373.13" y="207.63" width="8.53" height="8.53" fill="#ff00ff"/>
<rect x="378.38" y="207.53" width="8.53" height="8.53" fill="#ff00ff"/>
<rect x="383.63" y="207.53" width="8.53" height="8.53" fill="#ff00ff"/>
<polyline points="230.4,217.8 272.4,214.8 303.9,219.8 345.9,223.8 366.9,211.9 377.4,212.3 382.65,212.8 387.9,213.6" fill="none" stroke="#3fc53f" stroke-width="1.8" stroke-linejoin="round"/>
<path d="M230.4,213.7L234.61,221.9L226.19,221.9Z" fill="#3fc53f"/>
<path d="M272.4,210.7L276.61,218.9L268.19,218.9Z" fill="#3fc53f"/>
<path d="M303.9,215.7L308.11,223.9L299.69,223.9Z" fill="#3fc53f"/>
<path d="M345.9,219.7L350.11,227.9L341.69,227.9Z" fill="#3fc53f"/>
<path d="M366.9,207.8L371.11,216L362.69,216Z" fill="#3fc53f"/>
<path d="M377.4,208.2L381.61,216.4L373.19,216.4Z" fill="#3fc53f"/>
<path d="M382.65,208.7L386.86,216.9L378.44,216.9Z" fill="#3fc53f"/>
<path d="M387.9,209.5L392.11,217.7L383.69,217.7Z" fill="#3fc53f"/>
<polyline points="230.4,217.8 272.4,229.9 303.9,222.5 345.9,217.9 366.9,219.8 377.4,215.3 382.65,215.8 387.9,216.2" fill="none" stroke="#000000" stroke-width="1.8" stroke-linejoin="round"/>
<path d="M226.19,213.7L234.61,213.7L230.4,221.9Z" fill="#000000"/>
<path d="M268.19,225.8L276.61,225.8L272.4,234Z" fill="#000000"/>
<path d="M299.69,218.4L308.11,218.4L303.9,226.6Z" fill="#000000"/>
<path d="M341.69,213.8L350.11,213.8L345.9,222Z" fill="#000000"/>
<path d="M362.69,215.7L371.11,215.7L366.9,223.9Z" fill="#000000"/>
<path d="M373.19,211.2L381.61,211.2L377.4,219.4Z" fill="#000000"/>
<path d="M378.44,211.7L386.86,211.7L382.65,219.9Z" fill="#000000"/>
<path d="M383.69,212.1L392.11,212.1L387.9,220.3Z" fill="#000000"/>
<polyline points="230.4,227.7 272.4,236.1 303.9,231.8 345.9,229.8 366.9,222.1 377.4,217 382.65,217.9 387.9,219.6" fill="none" stroke="#ff0000" stroke-width="1.8" stroke-linejoin="round"/>
<path d="M230.4,223.6L233.42,227.7L230.4,231.8L227.38,227.7Z" fill="#ff0000"/>
<path d="M272.4,232L275.42,236.1L272.4,240.2L269.38,236.1Z" fill="#ff0000"/>
<path d="M303.9,227.7L306.92,231.8L303.9,235.9L300.88,231.8Z" fill="#ff0000"/>
<path d="M345.9,225.7L348.92,229.8L345.9,233.9L342.88,229.8Z" fill="#ff0000"/>
<path d="M366.9,218L369.92,222.1L366.9,226.2L363.88,222.1Z" fill="#ff0000"/>
<path d="M377.4,212.9L380.42,217L377.4,221.1L374.38,217Z" fill="#ff0000"/>
<path d="M382.65,213.8L385.67,217.9L382.65,222L379.63,217.9Z" fill="#ff0000"/>
<path d="M387.9,215.5L390.92,219.6L387.9,223.7L384.88,219.6Z" fill="#ff0000"/>
</g>
<rect x="220.0" y="9.05" width="182.5" height="239.55" fill="none" stroke="#6e6e6e" stroke-width="1"/>
<line x1="220.0" y1="175.2" x2="402.5" y2="175.2" stroke="#6e6e6e" stroke-width="1"/>
<path d="M219.9,175.2v-4M219.9,248.6v-2.4M225.15,175.2v-2M225.15,248.6v-1.2M230.4,175.2v-2M230.4,248.6v-1.2M235.65,175.2v-2M235.65,248.6v-1.2M240.9,175.2v-4M240.9,248.6v-2.4M246.15,175.2v-2M246.15,248.6v-1.2M251.4,175.2v-2M251.4,248.6v-1.2M256.65,175.2v-2M256.65,248.6v-1.2M261.9,175.2v-4M261.9,248.6v-2.4M267.15,175.2v-2M267.15,248.6v-1.2M272.4,175.2v-2M272.4,248.6v-1.2M277.65,175.2v-2M277.65,248.6v-1.2M282.9,175.2v-4M282.9,248.6v-2.4M288.15,175.2v-2M288.15,248.6v-1.2M293.4,175.2v-2M293.4,248.6v-1.2M298.65,175.2v-2M298.65,248.6v-1.2M303.9,175.2v-4M303.9,248.6v-2.4M309.15,175.2v-2M309.15,248.6v-1.2M314.4,175.2v-2M314.4,248.6v-1.2M319.65,175.2v-2M319.65,248.6v-1.2M324.9,175.2v-4M324.9,248.6v-2.4M330.15,175.2v-2M330.15,248.6v-1.2M335.4,175.2v-2M335.4,248.6v-1.2M340.65,175.2v-2M340.65,248.6v-1.2M345.9,175.2v-4M345.9,248.6v-2.4M351.15,175.2v-2M351.15,248.6v-1.2M356.4,175.2v-2M356.4,248.6v-1.2M361.65,175.2v-2M361.65,248.6v-1.2M366.9,175.2v-4M366.9,248.6v-2.4M372.15,175.2v-2M372.15,248.6v-1.2M377.4,175.2v-2M377.4,248.6v-1.2M382.65,175.2v-2M382.65,248.6v-1.2M387.9,175.2v-4M387.9,248.6v-2.4M393.15,175.2v-2M393.15,248.6v-1.2M398.4,175.2v-2M398.4,248.6v-1.2" stroke="#6e6e6e" stroke-width="1" fill="none"/>
<text x="220.05" y="256.3" font-size="7.8" text-anchor="middle" class="ls">0</text>
<text x="241.05" y="256.3" font-size="7.8" text-anchor="middle" class="ls">20</text>
<text x="262.05" y="256.3" font-size="7.8" text-anchor="middle" class="ls">40</text>
<text x="283.05" y="256.3" font-size="7.8" text-anchor="middle" class="ls">60</text>
<text x="304.05" y="256.3" font-size="7.8" text-anchor="middle" class="ls">80</text>
<text x="325.05" y="256.3" font-size="7.8" text-anchor="middle" class="ls">100</text>
<text x="346.05" y="256.3" font-size="7.8" text-anchor="middle" class="ls">120</text>
<text x="367.05" y="256.3" font-size="7.8" text-anchor="middle" class="ls">140</text>
<text x="388.05" y="256.3" font-size="7.8" text-anchor="middle" class="ls">160</text>
<text x="311.25" y="263.9" font-size="8.2" text-anchor="middle" style="stroke-width:0.12px">Depth in Water (mm)</text>
<clipPath id="cu2"><rect x="418.8" y="9.05" width="182.49999999999994" height="166.14999999999998"/></clipPath>
<clipPath id="cl2"><rect x="418.8" y="175.2" width="182.49999999999994" height="73.4"/></clipPath>
<line x1="578.3" y1="9.55" x2="578.3" y2="248.6" stroke="#000" stroke-width="1.9" stroke-dasharray="2.4 2.5"/>
<g clip-path="url(#cu2)">
<polyline points="428.5,167 467.7,168 516.7,167.5 546.1,161.4 555.9,164.8 565.7,159.8 575.5,142.4 579.42,46.7 585.3,158.6" fill="none" stroke="#000000" stroke-width="1.8" stroke-linejoin="round"/>
<line x1="428.5" y1="159" x2="428.5" y2="175" stroke="#000000" stroke-width="1.8"/>
<line x1="467.7" y1="165" x2="467.7" y2="171" stroke="#000000" stroke-width="1.8"/>
<line x1="516.7" y1="164.5" x2="516.7" y2="170.5" stroke="#000000" stroke-width="1.8"/>
<line x1="546.1" y1="150.4" x2="546.1" y2="172.4" stroke="#000000" stroke-width="1.8"/>
<line x1="555.9" y1="161.8" x2="555.9" y2="167.8" stroke="#000000" stroke-width="1.8"/>
<line x1="565.7" y1="156.8" x2="565.7" y2="162.8" stroke="#000000" stroke-width="1.8"/>
<line x1="575.5" y1="139.4" x2="575.5" y2="145.4" stroke="#000000" stroke-width="1.8"/>
<line x1="579.42" y1="43.7" x2="579.42" y2="49.7" stroke="#000000" stroke-width="1.8"/>
<line x1="585.3" y1="155.6" x2="585.3" y2="161.6" stroke="#000000" stroke-width="1.8"/>
<circle cx="428.5" cy="167" r="4.21" fill="#000000"/>
<circle cx="467.7" cy="168" r="4.21" fill="#000000"/>
<circle cx="516.7" cy="167.5" r="4.21" fill="#000000"/>
<circle cx="546.1" cy="161.4" r="4.21" fill="#000000"/>
<circle cx="555.9" cy="164.8" r="4.21" fill="#000000"/>
<circle cx="565.7" cy="159.8" r="4.21" fill="#000000"/>
<circle cx="575.5" cy="142.4" r="4.21" fill="#000000"/>
<circle cx="579.42" cy="46.7" r="4.21" fill="#000000"/>
<circle cx="585.3" cy="158.6" r="4.21" fill="#000000"/>
<polyline points="428.5,168.5 467.7,169 516.7,166.9 546.1,164 555.9,162 565.7,155 575.5,134.5 579.42,31 585.3,158.6" fill="none" stroke="#ff0000" stroke-width="1.8" stroke-linejoin="round"/>
<line x1="428.5" y1="165.5" x2="428.5" y2="171.5" stroke="#ff0000" stroke-width="1.8"/>
<line x1="467.7" y1="166" x2="467.7" y2="172" stroke="#ff0000" stroke-width="1.8"/>
<line x1="516.7" y1="163.9" x2="516.7" y2="169.9" stroke="#ff0000" stroke-width="1.8"/>
<line x1="546.1" y1="161" x2="546.1" y2="167" stroke="#ff0000" stroke-width="1.8"/>
<line x1="555.9" y1="159" x2="555.9" y2="165" stroke="#ff0000" stroke-width="1.8"/>
<line x1="565.7" y1="152" x2="565.7" y2="158" stroke="#ff0000" stroke-width="1.8"/>
<line x1="575.5" y1="131.5" x2="575.5" y2="137.5" stroke="#ff0000" stroke-width="1.8"/>
<line x1="579.42" y1="25.5" x2="579.42" y2="36.5" stroke="#ff0000" stroke-width="1.8"/>
<line x1="585.3" y1="155.6" x2="585.3" y2="161.6" stroke="#ff0000" stroke-width="1.8"/>
<path d="M426.83,164.29H430.17V166.83H432.71V170.17H430.17V172.71H426.83V170.17H424.29V166.83H426.83Z" fill="#ff0000"/>
<path d="M466.03,164.79H469.37V167.33H471.91V170.67H469.37V173.21H466.03V170.67H463.49V167.33H466.03Z" fill="#ff0000"/>
<path d="M515.03,162.69H518.37V165.23H520.91V168.57H518.37V171.11H515.03V168.57H512.49V165.23H515.03Z" fill="#ff0000"/>
<path d="M544.43,159.79H547.77V162.33H550.31V165.67H547.77V168.21H544.43V165.67H541.89V162.33H544.43Z" fill="#ff0000"/>
<path d="M554.23,157.79H557.57V160.33H560.11V163.67H557.57V166.21H554.23V163.67H551.69V160.33H554.23Z" fill="#ff0000"/>
<path d="M564.03,150.79H567.37V153.33H569.91V156.67H567.37V159.21H564.03V156.67H561.49V153.33H564.03Z" fill="#ff0000"/>
<path d="M573.83,130.29H577.17V132.83H579.71V136.17H577.17V138.71H573.83V136.17H571.29V132.83H573.83Z" fill="#ff0000"/>
<path d="M577.75,26.79H581.09V29.33H583.63V32.67H581.09V35.21H577.75V32.67H575.21V29.33H577.75Z" fill="#ff0000"/>
<path d="M583.63,154.39H586.97V156.93H589.51V160.27H586.97V162.81H583.63V160.27H581.09V156.93H583.63Z" fill="#ff0000"/>
<polyline points="428.5,168 467.7,170.6 516.7,170.5 546.1,167 555.9,163 565.7,157 575.5,141.1 579.42,37.5 585.3,157.5" fill="none" stroke="#0000ff" stroke-width="1.8" stroke-linejoin="round"/>
<line x1="428.5" y1="165" x2="428.5" y2="171" stroke="#0000ff" stroke-width="1.8"/>
<line x1="467.7" y1="167.6" x2="467.7" y2="173.6" stroke="#0000ff" stroke-width="1.8"/>
<line x1="516.7" y1="167.5" x2="516.7" y2="173.5" stroke="#0000ff" stroke-width="1.8"/>
<line x1="546.1" y1="164" x2="546.1" y2="170" stroke="#0000ff" stroke-width="1.8"/>
<line x1="555.9" y1="160" x2="555.9" y2="166" stroke="#0000ff" stroke-width="1.8"/>
<line x1="565.7" y1="154" x2="565.7" y2="160" stroke="#0000ff" stroke-width="1.8"/>
<line x1="575.5" y1="138.1" x2="575.5" y2="144.1" stroke="#0000ff" stroke-width="1.8"/>
<line x1="579.42" y1="34.5" x2="579.42" y2="40.5" stroke="#0000ff" stroke-width="1.8"/>
<line x1="585.3" y1="154.5" x2="585.3" y2="160.5" stroke="#0000ff" stroke-width="1.8"/>
<rect x="425.04" y="164.54" width="6.92" height="6.92" fill="none" stroke="#0000ff" stroke-width="1.5"/>
<rect x="464.24" y="167.14" width="6.92" height="6.92" fill="none" stroke="#0000ff" stroke-width="1.5"/>
<rect x="513.24" y="167.04" width="6.92" height="6.92" fill="none" stroke="#0000ff" stroke-width="1.5"/>
<rect x="542.64" y="163.54" width="6.92" height="6.92" fill="none" stroke="#0000ff" stroke-width="1.5"/>
<rect x="552.44" y="159.54" width="6.92" height="6.92" fill="none" stroke="#0000ff" stroke-width="1.5"/>
<rect x="562.24" y="153.54" width="6.92" height="6.92" fill="none" stroke="#0000ff" stroke-width="1.5"/>
<rect x="572.04" y="137.64" width="6.92" height="6.92" fill="none" stroke="#0000ff" stroke-width="1.5"/>
<rect x="575.96" y="34.04" width="6.92" height="6.92" fill="none" stroke="#0000ff" stroke-width="1.5"/>
<rect x="581.84" y="154.04" width="6.92" height="6.92" fill="none" stroke="#0000ff" stroke-width="1.5"/>
<polyline points="428.5,169.5 467.7,170.3 516.7,170 546.1,168.7 555.9,165 565.7,159.8 575.5,137.4 579.42,32 585.3,161.1" fill="none" stroke="#ff00ff" stroke-width="1.8" stroke-linejoin="round"/>
<line x1="428.5" y1="166.5" x2="428.5" y2="172.5" stroke="#ff00ff" stroke-width="1.8"/>
<line x1="467.7" y1="167.3" x2="467.7" y2="173.3" stroke="#ff00ff" stroke-width="1.8"/>
<line x1="516.7" y1="167" x2="516.7" y2="173" stroke="#ff00ff" stroke-width="1.8"/>
<line x1="546.1" y1="165.7" x2="546.1" y2="171.7" stroke="#ff00ff" stroke-width="1.8"/>
<line x1="555.9" y1="162" x2="555.9" y2="168" stroke="#ff00ff" stroke-width="1.8"/>
<line x1="565.7" y1="156.8" x2="565.7" y2="162.8" stroke="#ff00ff" stroke-width="1.8"/>
<line x1="575.5" y1="134.4" x2="575.5" y2="140.4" stroke="#ff00ff" stroke-width="1.8"/>
<line x1="579.42" y1="29" x2="579.42" y2="35" stroke="#ff00ff" stroke-width="1.8"/>
<line x1="585.3" y1="158.1" x2="585.3" y2="164.1" stroke="#ff00ff" stroke-width="1.8"/>
<rect x="424.23" y="165.23" width="8.53" height="8.53" fill="#ff00ff"/>
<rect x="463.43" y="166.03" width="8.53" height="8.53" fill="#ff00ff"/>
<rect x="512.43" y="165.73" width="8.53" height="8.53" fill="#ff00ff"/>
<rect x="541.83" y="164.43" width="8.53" height="8.53" fill="#ff00ff"/>
<rect x="551.63" y="160.73" width="8.53" height="8.53" fill="#ff00ff"/>
<rect x="561.43" y="155.53" width="8.53" height="8.53" fill="#ff00ff"/>
<rect x="571.23" y="133.13" width="8.53" height="8.53" fill="#ff00ff"/>
<rect x="575.15" y="27.73" width="8.53" height="8.53" fill="#ff00ff"/>
<rect x="581.03" y="156.83" width="8.53" height="8.53" fill="#ff00ff"/>
<polyline points="428.5,169.2 467.7,168.8 516.7,167.8 546.1,165.7 555.9,164 565.7,157 575.5,136 579.42,31 585.3,159.5" fill="none" stroke="#3fc53f" stroke-width="1.8" stroke-linejoin="round"/>
<line x1="428.5" y1="166.2" x2="428.5" y2="172.2" stroke="#3fc53f" stroke-width="1.8"/>
<line x1="467.7" y1="165.8" x2="467.7" y2="171.8" stroke="#3fc53f" stroke-width="1.8"/>
<line x1="516.7" y1="164.8" x2="516.7" y2="170.8" stroke="#3fc53f" stroke-width="1.8"/>
<line x1="546.1" y1="162.7" x2="546.1" y2="168.7" stroke="#3fc53f" stroke-width="1.8"/>
<line x1="555.9" y1="161" x2="555.9" y2="167" stroke="#3fc53f" stroke-width="1.8"/>
<line x1="565.7" y1="154" x2="565.7" y2="160" stroke="#3fc53f" stroke-width="1.8"/>
<line x1="575.5" y1="133" x2="575.5" y2="139" stroke="#3fc53f" stroke-width="1.8"/>
<line x1="579.42" y1="28" x2="579.42" y2="34" stroke="#3fc53f" stroke-width="1.8"/>
<line x1="585.3" y1="156.5" x2="585.3" y2="162.5" stroke="#3fc53f" stroke-width="1.8"/>
<path d="M428.5,165.1L432.71,173.3L424.29,173.3Z" fill="#3fc53f"/>
<path d="M467.7,164.7L471.91,172.9L463.49,172.9Z" fill="#3fc53f"/>
<path d="M516.7,163.7L520.91,171.9L512.49,171.9Z" fill="#3fc53f"/>
<path d="M546.1,161.6L550.31,169.8L541.89,169.8Z" fill="#3fc53f"/>
<path d="M555.9,159.9L560.11,168.1L551.69,168.1Z" fill="#3fc53f"/>
<path d="M565.7,152.9L569.91,161.1L561.49,161.1Z" fill="#3fc53f"/>
<path d="M575.5,131.9L579.71,140.1L571.29,140.1Z" fill="#3fc53f"/>
<path d="M579.42,26.9L583.63,35.1L575.21,35.1Z" fill="#3fc53f"/>
<path d="M585.3,155.4L589.51,163.6L581.09,163.6Z" fill="#3fc53f"/>
<polyline points="428.5,168.5 467.7,167.2 516.7,166.3 546.1,162 555.9,160 565.7,155.5 575.5,133.5 579.42,38.5 585.3,157.5" fill="none" stroke="#000000" stroke-width="1.8" stroke-linejoin="round"/>
<line x1="428.5" y1="165.5" x2="428.5" y2="171.5" stroke="#000000" stroke-width="1.8"/>
<line x1="467.7" y1="164.2" x2="467.7" y2="170.2" stroke="#000000" stroke-width="1.8"/>
<line x1="516.7" y1="163.3" x2="516.7" y2="169.3" stroke="#000000" stroke-width="1.8"/>
<line x1="546.1" y1="159" x2="546.1" y2="165" stroke="#000000" stroke-width="1.8"/>
<line x1="555.9" y1="157" x2="555.9" y2="163" stroke="#000000" stroke-width="1.8"/>
<line x1="565.7" y1="152.5" x2="565.7" y2="158.5" stroke="#000000" stroke-width="1.8"/>
<line x1="575.5" y1="130.5" x2="575.5" y2="136.5" stroke="#000000" stroke-width="1.8"/>
<line x1="579.42" y1="35.5" x2="579.42" y2="41.5" stroke="#000000" stroke-width="1.8"/>
<line x1="585.3" y1="154.5" x2="585.3" y2="160.5" stroke="#000000" stroke-width="1.8"/>
<path d="M424.29,164.4L432.71,164.4L428.5,172.6Z" fill="#000000"/>
<path d="M463.49,163.1L471.91,163.1L467.7,171.3Z" fill="#000000"/>
<path d="M512.49,162.2L520.91,162.2L516.7,170.4Z" fill="#000000"/>
<path d="M541.89,157.9L550.31,157.9L546.1,166.1Z" fill="#000000"/>
<path d="M551.69,155.9L560.11,155.9L555.9,164.1Z" fill="#000000"/>
<path d="M561.49,151.4L569.91,151.4L565.7,159.6Z" fill="#000000"/>
<path d="M571.29,129.4L579.71,129.4L575.5,137.6Z" fill="#000000"/>
<path d="M575.21,34.4L583.63,34.4L579.42,42.6Z" fill="#000000"/>
<path d="M581.09,153.4L589.51,153.4L585.3,161.6Z" fill="#000000"/>
<polyline points="428.5,168.9 467.7,169.5 516.7,166.9 546.1,164 555.9,162.3 565.7,154.8 575.5,134.9 579.42,47 585.3,158.6" fill="none" stroke="#ff0000" stroke-width="1.8" stroke-linejoin="round"/>
<line x1="428.5" y1="165.9" x2="428.5" y2="171.9" stroke="#ff0000" stroke-width="1.8"/>
<line x1="467.7" y1="166.5" x2="467.7" y2="172.5" stroke="#ff0000" stroke-width="1.8"/>
<line x1="516.7" y1="163.9" x2="516.7" y2="169.9" stroke="#ff0000" stroke-width="1.8"/>
<line x1="546.1" y1="161" x2="546.1" y2="167" stroke="#ff0000" stroke-width="1.8"/>
<line x1="555.9" y1="159.3" x2="555.9" y2="165.3" stroke="#ff0000" stroke-width="1.8"/>
<line x1="565.7" y1="151.8" x2="565.7" y2="157.8" stroke="#ff0000" stroke-width="1.8"/>
<line x1="575.5" y1="131.9" x2="575.5" y2="137.9" stroke="#ff0000" stroke-width="1.8"/>
<line x1="579.42" y1="44" x2="579.42" y2="50" stroke="#ff0000" stroke-width="1.8"/>
<line x1="585.3" y1="148.6" x2="585.3" y2="168.6" stroke="#ff0000" stroke-width="1.8"/>
<path d="M428.5,164.8L431.52,168.9L428.5,173L425.48,168.9Z" fill="#ff0000"/>
<path d="M467.7,165.4L470.72,169.5L467.7,173.6L464.68,169.5Z" fill="#ff0000"/>
<path d="M516.7,162.8L519.72,166.9L516.7,171L513.68,166.9Z" fill="#ff0000"/>
<path d="M546.1,159.9L549.12,164L546.1,168.1L543.08,164Z" fill="#ff0000"/>
<path d="M555.9,158.2L558.92,162.3L555.9,166.4L552.88,162.3Z" fill="#ff0000"/>
<path d="M565.7,150.7L568.72,154.8L565.7,158.9L562.68,154.8Z" fill="#ff0000"/>
<path d="M575.5,130.8L578.52,134.9L575.5,139L572.48,134.9Z" fill="#ff0000"/>
<path d="M579.42,42.9L582.44,47L579.42,51.1L576.4,47Z" fill="#ff0000"/>
<path d="M585.3,154.5L588.32,158.6L585.3,162.7L582.28,158.6Z" fill="#ff0000"/>
</g>
<g clip-path="url(#cl2)">
<polyline points="428.5,212 467.7,215.5 516.7,214 546.1,192.5 555.9,221.9 565.7,218.5 575.5,220.3 579.42,218 585.3,219.6" fill="none" stroke="#000000" stroke-width="1.8" stroke-linejoin="round"/>
<circle cx="428.5" cy="212" r="4.21" fill="#000000"/>
<circle cx="467.7" cy="215.5" r="4.21" fill="#000000"/>
<circle cx="516.7" cy="214" r="4.21" fill="#000000"/>
<circle cx="546.1" cy="192.5" r="4.21" fill="#000000"/>
<circle cx="555.9" cy="221.9" r="4.21" fill="#000000"/>
<circle cx="565.7" cy="218.5" r="4.21" fill="#000000"/>
<circle cx="575.5" cy="220.3" r="4.21" fill="#000000"/>
<circle cx="579.42" cy="218" r="4.21" fill="#000000"/>
<circle cx="585.3" cy="219.6" r="4.21" fill="#000000"/>
<polyline points="428.5,224 467.7,208.9 516.7,204.7 546.1,204 555.9,205 565.7,203 575.5,209 579.42,212 585.3,197" fill="none" stroke="#ff0000" stroke-width="1.8" stroke-linejoin="round"/>
<path d="M426.83,219.79H430.17V222.33H432.71V225.67H430.17V228.21H426.83V225.67H424.29V222.33H426.83Z" fill="#ff0000"/>
<path d="M466.03,204.69H469.37V207.23H471.91V210.57H469.37V213.11H466.03V210.57H463.49V207.23H466.03Z" fill="#ff0000"/>
<path d="M515.03,200.49H518.37V203.03H520.91V206.37H518.37V208.91H515.03V206.37H512.49V203.03H515.03Z" fill="#ff0000"/>
<path d="M544.43,199.79H547.77V202.33H550.31V205.67H547.77V208.21H544.43V205.67H541.89V202.33H544.43Z" fill="#ff0000"/>
<path d="M554.23,200.79H557.57V203.33H560.11V206.67H557.57V209.21H554.23V206.67H551.69V203.33H554.23Z" fill="#ff0000"/>
<path d="M564.03,198.79H567.37V201.33H569.91V204.67H567.37V207.21H564.03V204.67H561.49V201.33H564.03Z" fill="#ff0000"/>
<path d="M573.83,204.79H577.17V207.33H579.71V210.67H577.17V213.21H573.83V210.67H571.29V207.33H573.83Z" fill="#ff0000"/>
<path d="M577.75,207.79H581.09V210.33H583.63V213.67H581.09V216.21H577.75V213.67H575.21V210.33H577.75Z" fill="#ff0000"/>
<path d="M583.63,192.79H586.97V195.33H589.51V198.67H586.97V201.21H583.63V198.67H581.09V195.33H583.63Z" fill="#ff0000"/>
<polyline points="428.5,206 467.7,219.8 516.7,216.2 546.1,211.7 555.9,212 565.7,212 575.5,217.4 579.42,214 585.3,203.8" fill="none" stroke="#0000ff" stroke-width="1.8" stroke-linejoin="round"/>
<rect x="425.04" y="202.54" width="6.92" height="6.92" fill="none" stroke="#0000ff" stroke-width="1.5"/>
<rect x="464.24" y="216.34" width="6.92" height="6.92" fill="none" stroke="#0000ff" stroke-width="1.5"/>
<rect x="513.24" y="212.74" width="6.92" height="6.92" fill="none" stroke="#0000ff" stroke-width="1.5"/>
<rect x="542.64" y="208.24" width="6.92" height="6.92" fill="none" stroke="#0000ff" stroke-width="1.5"/>
<rect x="552.44" y="208.54" width="6.92" height="6.92" fill="none" stroke="#0000ff" stroke-width="1.5"/>
<rect x="562.24" y="208.54" width="6.92" height="6.92" fill="none" stroke="#0000ff" stroke-width="1.5"/>
<rect x="572.04" y="213.94" width="6.92" height="6.92" fill="none" stroke="#0000ff" stroke-width="1.5"/>
<rect x="575.96" y="210.54" width="6.92" height="6.92" fill="none" stroke="#0000ff" stroke-width="1.5"/>
<rect x="581.84" y="200.34" width="6.92" height="6.92" fill="none" stroke="#0000ff" stroke-width="1.5"/>
<polyline points="428.5,208.9 467.7,212.3 516.7,213 546.1,212.1 555.9,212.8 565.7,211.7 575.5,214 579.42,213 585.3,214" fill="none" stroke="#ff00ff" stroke-width="1.8" stroke-linejoin="round"/>
<rect x="424.23" y="204.63" width="8.53" height="8.53" fill="#ff00ff"/>
<rect x="463.43" y="208.03" width="8.53" height="8.53" fill="#ff00ff"/>
<rect x="512.43" y="208.73" width="8.53" height="8.53" fill="#ff00ff"/>
<rect x="541.83" y="207.83" width="8.53" height="8.53" fill="#ff00ff"/>
<rect x="551.63" y="208.53" width="8.53" height="8.53" fill="#ff00ff"/>
<rect x="561.43" y="207.43" width="8.53" height="8.53" fill="#ff00ff"/>
<rect x="571.23" y="209.73" width="8.53" height="8.53" fill="#ff00ff"/>
<rect x="575.15" y="208.73" width="8.53" height="8.53" fill="#ff00ff"/>
<rect x="581.03" y="209.73" width="8.53" height="8.53" fill="#ff00ff"/>
<polyline points="428.5,213.6 467.7,211.7 516.7,202.7 546.1,201.5 555.9,211.7 565.7,210 575.5,211 579.42,210 585.3,207.2" fill="none" stroke="#3fc53f" stroke-width="1.8" stroke-linejoin="round"/>
<path d="M428.5,209.5L432.71,217.7L424.29,217.7Z" fill="#3fc53f"/>
<path d="M467.7,207.6L471.91,215.8L463.49,215.8Z" fill="#3fc53f"/>
<path d="M516.7,198.6L520.91,206.8L512.49,206.8Z" fill="#3fc53f"/>
<path d="M546.1,197.4L550.31,205.6L541.89,205.6Z" fill="#3fc53f"/>
<path d="M555.9,207.6L560.11,215.8L551.69,215.8Z" fill="#3fc53f"/>
<path d="M565.7,205.9L569.91,214.1L561.49,214.1Z" fill="#3fc53f"/>
<path d="M575.5,206.9L579.71,215.1L571.29,215.1Z" fill="#3fc53f"/>
<path d="M579.42,205.9L583.63,214.1L575.21,214.1Z" fill="#3fc53f"/>
<path d="M585.3,203.1L589.51,211.3L581.09,211.3Z" fill="#3fc53f"/>
<polyline points="428.5,213.5 467.7,200.2 516.7,197.4 546.1,198.6 555.9,202.6 565.7,205 575.5,207.2 579.42,209 585.3,209" fill="none" stroke="#000000" stroke-width="1.8" stroke-linejoin="round"/>
<path d="M424.29,209.4L432.71,209.4L428.5,217.6Z" fill="#000000"/>
<path d="M463.49,196.1L471.91,196.1L467.7,204.3Z" fill="#000000"/>
<path d="M512.49,193.3L520.91,193.3L516.7,201.5Z" fill="#000000"/>
<path d="M541.89,194.5L550.31,194.5L546.1,202.7Z" fill="#000000"/>
<path d="M551.69,198.5L560.11,198.5L555.9,206.7Z" fill="#000000"/>
<path d="M561.49,200.9L569.91,200.9L565.7,209.1Z" fill="#000000"/>
<path d="M571.29,203.1L579.71,203.1L575.5,211.3Z" fill="#000000"/>
<path d="M575.21,204.9L583.63,204.9L579.42,213.1Z" fill="#000000"/>
<path d="M581.09,204.9L589.51,204.9L585.3,213.1Z" fill="#000000"/>
<polyline points="428.5,204.2 467.7,210.8 516.7,205.5 546.1,203.2 555.9,204.9 565.7,201.5 575.5,209.4 579.42,211.7 585.3,210.6" fill="none" stroke="#ff0000" stroke-width="1.8" stroke-linejoin="round"/>
<path d="M428.5,200.1L431.52,204.2L428.5,208.3L425.48,204.2Z" fill="#ff0000"/>
<path d="M467.7,206.7L470.72,210.8L467.7,214.9L464.68,210.8Z" fill="#ff0000"/>
<path d="M516.7,201.4L519.72,205.5L516.7,209.6L513.68,205.5Z" fill="#ff0000"/>
<path d="M546.1,199.1L549.12,203.2L546.1,207.3L543.08,203.2Z" fill="#ff0000"/>
<path d="M555.9,200.8L558.92,204.9L555.9,209L552.88,204.9Z" fill="#ff0000"/>
<path d="M565.7,197.4L568.72,201.5L565.7,205.6L562.68,201.5Z" fill="#ff0000"/>
<path d="M575.5,205.3L578.52,209.4L575.5,213.5L572.48,209.4Z" fill="#ff0000"/>
<path d="M579.42,207.6L582.44,211.7L579.42,215.8L576.4,211.7Z" fill="#ff0000"/>
<path d="M585.3,206.5L588.32,210.6L585.3,214.7L582.28,210.6Z" fill="#ff0000"/>
</g>
<rect x="418.8" y="9.05" width="182.5" height="239.55" fill="none" stroke="#6e6e6e" stroke-width="1"/>
<line x1="418.8" y1="175.2" x2="601.3" y2="175.2" stroke="#6e6e6e" stroke-width="1"/>
<path d="M418.7,175.2v-4M418.7,248.6v-2.4M423.6,175.2v-2M423.6,248.6v-1.2M428.5,175.2v-2M428.5,248.6v-1.2M433.4,175.2v-2M433.4,248.6v-1.2M438.3,175.2v-4M438.3,248.6v-2.4M443.2,175.2v-2M443.2,248.6v-1.2M448.1,175.2v-2M448.1,248.6v-1.2M453,175.2v-2M453,248.6v-1.2M457.9,175.2v-4M457.9,248.6v-2.4M462.8,175.2v-2M462.8,248.6v-1.2M467.7,175.2v-2M467.7,248.6v-1.2M472.6,175.2v-2M472.6,248.6v-1.2M477.5,175.2v-4M477.5,248.6v-2.4M482.4,175.2v-2M482.4,248.6v-1.2M487.3,175.2v-2M487.3,248.6v-1.2M492.2,175.2v-2M492.2,248.6v-1.2M497.1,175.2v-4M497.1,248.6v-2.4M502,175.2v-2M502,248.6v-1.2M506.9,175.2v-2M506.9,248.6v-1.2M511.8,175.2v-2M511.8,248.6v-1.2M516.7,175.2v-4M516.7,248.6v-2.4M521.6,175.2v-2M521.6,248.6v-1.2M526.5,175.2v-2M526.5,248.6v-1.2M531.4,175.2v-2M531.4,248.6v-1.2M536.3,175.2v-4M536.3,248.6v-2.4M541.2,175.2v-2M541.2,248.6v-1.2M546.1,175.2v-2M546.1,248.6v-1.2M551,175.2v-2M551,248.6v-1.2M555.9,175.2v-4M555.9,248.6v-2.4M560.8,175.2v-2M560.8,248.6v-1.2M565.7,175.2v-2M565.7,248.6v-1.2M570.6,175.2v-2M570.6,248.6v-1.2M575.5,175.2v-4M575.5,248.6v-2.4M580.4,175.2v-2M580.4,248.6v-1.2M585.3,175.2v-2M585.3,248.6v-1.2M590.2,175.2v-2M590.2,248.6v-1.2M595.1,175.2v-4M595.1,248.6v-2.4M600,175.2v-2M600,248.6v-1.2" stroke="#6e6e6e" stroke-width="1" fill="none"/>
<text x="418.85" y="256.3" font-size="7.8" text-anchor="middle" class="ls">0</text>
<text x="438.45" y="256.3" font-size="7.8" text-anchor="middle" class="ls">20</text>
<text x="458.05" y="256.3" font-size="7.8" text-anchor="middle" class="ls">40</text>
<text x="477.65" y="256.3" font-size="7.8" text-anchor="middle" class="ls">60</text>
<text x="497.25" y="256.3" font-size="7.8" text-anchor="middle" class="ls">80</text>
<text x="516.85" y="256.3" font-size="7.8" text-anchor="middle" class="ls">100</text>
<text x="536.45" y="256.3" font-size="7.8" text-anchor="middle" class="ls">120</text>
<text x="556.05" y="256.3" font-size="7.8" text-anchor="middle" class="ls">140</text>
<text x="575.65" y="256.3" font-size="7.8" text-anchor="middle" class="ls">160</text>
<text x="595.25" y="256.3" font-size="7.8" text-anchor="middle" class="ls">180</text>
<text x="510.05" y="263.9" font-size="8.2" text-anchor="middle" style="stroke-width:0.12px">Depth in Water (mm)</text>
<path d="M21.5,171.26h3.1M21.5,164.21h3.1M21.5,157.16h3.1M21.5,150.1h6.2M21.5,143.04h3.1M21.5,135.99h3.1M21.5,128.94h3.1M21.5,121.88h6.2M21.5,114.82h3.1M21.5,107.77h3.1M21.5,100.72h3.1M21.5,93.66h6.2M21.5,86.6h3.1M21.5,79.55h3.1M21.5,72.5h3.1M21.5,65.44h6.2M21.5,58.38h3.1M21.5,51.33h3.1M21.5,44.28h3.1M21.5,37.22h6.2M21.5,30.16h3.1M21.5,23.11h3.1M21.5,16.06h3.1M21.5,9h6.2" stroke="#6e6e6e" stroke-width="1" fill="none"/>
<text x="20.8" y="152.9" font-size="7.8" text-anchor="end" class="ls">2</text>
<text x="20.8" y="124.68" font-size="7.8" text-anchor="end" class="ls">4</text>
<text x="20.8" y="96.46" font-size="7.8" text-anchor="end" class="ls">6</text>
<text x="20.8" y="68.24" font-size="7.8" text-anchor="end" class="ls">8</text>
<text x="20.8" y="40.02" font-size="7.8" text-anchor="end" class="ls">10</text>
<text x="20.8" y="11.8" font-size="7.8" text-anchor="end" class="ls">12</text>
<path d="M21.5,246.94h2.5M21.5,244.92h5M21.5,242.9h2.5M21.5,240.88h2.5M21.5,238.86h2.5M21.5,236.84h5M21.5,234.82h2.5M21.5,232.8h2.5M21.5,230.78h2.5M21.5,228.76h5M21.5,226.74h2.5M21.5,224.72h2.5M21.5,222.7h2.5M21.5,220.68h5M21.5,218.66h2.5M21.5,216.64h2.5M21.5,214.62h2.5M21.5,212.6h5M21.5,210.58h2.5M21.5,208.56h2.5M21.5,206.54h2.5M21.5,204.52h5M21.5,202.5h2.5M21.5,200.48h2.5M21.5,198.46h2.5M21.5,196.44h5M21.5,194.42h2.5M21.5,192.4h2.5M21.5,190.38h2.5M21.5,188.36h5M21.5,186.34h2.5M21.5,184.32h2.5M21.5,182.3h2.5M21.5,180.28h5M21.5,178.26h2.5M21.5,176.24h2.5" stroke="#6e6e6e" stroke-width="1" fill="none"/>
<text x="20.8" y="247.72" font-size="7.8" text-anchor="end" class="ls">−80</text>
<text x="20.8" y="239.64" font-size="7.8" text-anchor="end" class="ls">−60</text>
<text x="20.8" y="231.56" font-size="7.8" text-anchor="end" class="ls">−40</text>
<text x="20.8" y="223.48" font-size="7.8" text-anchor="end" class="ls">−20</text>
<text x="20.8" y="215.4" font-size="7.8" text-anchor="end" class="ls">0</text>
<text x="20.8" y="207.32" font-size="7.8" text-anchor="end" class="ls">20</text>
<text x="20.8" y="199.24" font-size="7.8" text-anchor="end" class="ls">40</text>
<text x="20.8" y="191.16" font-size="7.8" text-anchor="end" class="ls">60</text>
<text x="20.8" y="183.08" font-size="7.8" text-anchor="end" class="ls">80</text>
<path d="M220.0,171.77h3.1M220.0,165.63h3.1M220.0,159.5h3.1M220.0,153.36h3.1M220.0,147.23h6.2M220.0,141.1h3.1M220.0,134.96h3.1M220.0,128.83h3.1M220.0,122.69h3.1M220.0,116.56h6.2M220.0,110.43h3.1M220.0,104.29h3.1M220.0,98.16h3.1M220.0,92.02h3.1M220.0,85.89h6.2M220.0,79.76h3.1M220.0,73.62h3.1M220.0,67.49h3.1M220.0,61.35h3.1M220.0,55.22h6.2M220.0,49.09h3.1M220.0,42.95h3.1M220.0,36.82h3.1M220.0,30.68h3.1M220.0,24.55h6.2M220.0,18.42h3.1M220.0,12.28h3.1" stroke="#6e6e6e" stroke-width="1" fill="none"/>
<text x="219.3" y="150.03" font-size="7.8" text-anchor="end" class="ls">10</text>
<text x="219.3" y="119.36" font-size="7.8" text-anchor="end" class="ls">20</text>
<text x="219.3" y="88.69" font-size="7.8" text-anchor="end" class="ls">30</text>
<text x="219.3" y="58.02" font-size="7.8" text-anchor="end" class="ls">40</text>
<text x="219.3" y="27.35" font-size="7.8" text-anchor="end" class="ls">50</text>
<path d="M220.0,248.17h2.2M220.0,245.56h2.2M220.0,242.95h4.5M220.0,240.34h2.2M220.0,237.72h2.2M220.0,235.11h2.2M220.0,232.5h4.5M220.0,229.89h2.2M220.0,227.28h2.2M220.0,224.66h2.2M220.0,222.05h4.5M220.0,219.44h2.2M220.0,216.82h2.2M220.0,214.21h2.2M220.0,211.6h4.5M220.0,208.99h2.2M220.0,206.38h2.2M220.0,203.76h2.2M220.0,201.15h4.5M220.0,198.54h2.2M220.0,195.92h2.2M220.0,193.31h2.2M220.0,190.7h4.5M220.0,188.09h2.2M220.0,185.47h2.2M220.0,182.86h2.2M220.0,180.25h4.5M220.0,177.64h2.2M220.0,175.03h2.2" stroke="#6e6e6e" stroke-width="1" fill="none"/>
<text x="219.3" y="245.75" font-size="7.8" text-anchor="end" class="ls">−60</text>
<text x="219.3" y="235.3" font-size="7.8" text-anchor="end" class="ls">−40</text>
<text x="219.3" y="224.85" font-size="7.8" text-anchor="end" class="ls">−20</text>
<text x="219.3" y="214.4" font-size="7.8" text-anchor="end" class="ls">0</text>
<text x="219.3" y="203.95" font-size="7.8" text-anchor="end" class="ls">20</text>
<text x="219.3" y="193.5" font-size="7.8" text-anchor="end" class="ls">40</text>
<text x="219.3" y="183.05" font-size="7.8" text-anchor="end" class="ls">60</text>
<path d="M418.8,171.3h3.1M418.8,165.7h3.1M418.8,160.1h3.1M418.8,154.5h3.1M418.8,148.9h6.2M418.8,143.3h3.1M418.8,137.7h3.1M418.8,132.1h3.1M418.8,126.5h3.1M418.8,120.9h6.2M418.8,115.3h3.1M418.8,109.7h3.1M418.8,104.1h3.1M418.8,98.5h3.1M418.8,92.9h6.2M418.8,87.3h3.1M418.8,81.7h3.1M418.8,76.1h3.1M418.8,70.5h3.1M418.8,64.9h6.2M418.8,59.3h3.1M418.8,53.7h3.1M418.8,48.1h3.1M418.8,42.5h3.1M418.8,36.9h6.2M418.8,31.3h3.1M418.8,25.7h3.1M418.8,20.1h3.1M418.8,14.5h3.1M418.8,8.9h6.2" stroke="#6e6e6e" stroke-width="1" fill="none"/>
<text x="418.1" y="151.7" font-size="7.8" text-anchor="end" class="ls">50</text>
<text x="418.1" y="123.7" font-size="7.8" text-anchor="end" class="ls">100</text>
<text x="418.1" y="95.7" font-size="7.8" text-anchor="end" class="ls">150</text>
<text x="418.1" y="67.7" font-size="7.8" text-anchor="end" class="ls">200</text>
<text x="418.1" y="39.7" font-size="7.8" text-anchor="end" class="ls">250</text>
<text x="418.1" y="11.7" font-size="7.8" text-anchor="end" class="ls">300</text>
<path d="M418.8,246.52h2.2M418.8,243.88h4.5M418.8,241.24h2.2M418.8,238.6h2.2M418.8,235.96h2.2M418.8,233.32h4.5M418.8,230.68h2.2M418.8,228.04h2.2M418.8,225.4h2.2M418.8,222.76h4.5M418.8,220.12h2.2M418.8,217.48h2.2M418.8,214.84h2.2M418.8,212.2h4.5M418.8,209.56h2.2M418.8,206.92h2.2M418.8,204.28h2.2M418.8,201.64h4.5M418.8,199h2.2M418.8,196.36h2.2M418.8,193.72h2.2M418.8,191.08h4.5M418.8,188.44h2.2M418.8,185.8h2.2M418.8,183.16h2.2M418.8,180.52h4.5M418.8,177.88h2.2M418.8,175.24h2.2" stroke="#6e6e6e" stroke-width="1" fill="none"/>
<text x="418.1" y="246.68" font-size="7.8" text-anchor="end" class="ls">−60</text>
<text x="418.1" y="236.12" font-size="7.8" text-anchor="end" class="ls">−40</text>
<text x="418.1" y="225.56" font-size="7.8" text-anchor="end" class="ls">−20</text>
<text x="418.1" y="215" font-size="7.8" text-anchor="end" class="ls">0</text>
<text x="418.1" y="204.44" font-size="7.8" text-anchor="end" class="ls">20</text>
<text x="418.1" y="193.88" font-size="7.8" text-anchor="end" class="ls">40</text>
<text x="418.1" y="183.32" font-size="7.8" text-anchor="end" class="ls">60</text>
<circle cx="39.05" cy="15.2" r="3.9" fill="#000000"/>
<text x="64" y="17.2" font-size="6.6" text-anchor="middle" class="lg">1 <tspan class="mu">µ</tspan>m</text>
<path d="M87.35,11.3H90.45V13.65H92.8V16.75H90.45V19.1H87.35V16.75H85V13.65H87.35Z" fill="#ff0000"/>
<text x="111.7" y="17.2" font-size="6.6" text-anchor="middle" class="lg">2.5 <tspan class="mu">µ</tspan>m</text>
<rect x="131.62" y="11.72" width="6.95" height="6.95" fill="none" stroke="#3535ff" stroke-width="0.85"/>
<text x="157.1" y="17.2" font-size="6.6" text-anchor="middle" class="lg">5 <tspan class="mu">µ</tspan>m</text>
<rect x="35.1" y="19.75" width="7.9" height="7.9" fill="#ff00ff"/>
<text x="64" y="25.7" font-size="6.6" text-anchor="middle" class="lg">10 <tspan class="mu">µ</tspan>m</text>
<path d="M88.9,19.9L92.8,27.5L85,27.5Z" fill="#3fc53f"/>
<text x="111.7" y="25.7" font-size="6.6" text-anchor="middle" class="lg">25 <tspan class="mu">µ</tspan>m</text>
<path d="M131.2,19.9L139,19.9L135.1,27.5Z" fill="#000000"/>
<text x="157.1" y="25.7" font-size="6.6" text-anchor="middle" class="lg">50 <tspan class="mu">µ</tspan>m</text>
<path d="M39.05,28.25L41.85,32.05L39.05,35.85L36.25,32.05Z" fill="#ff0000"/>
<text x="64" y="34.05" font-size="6.6" text-anchor="middle" class="lg">100 <tspan class="mu">µ</tspan>m</text>
<circle cx="237.85" cy="15.4" r="3.9" fill="#000000"/>
<text x="262.8" y="17.4" font-size="6.6" text-anchor="middle" class="lg">1 <tspan class="mu">µ</tspan>m</text>
<path d="M286.15,11.5H289.25V13.85H291.6V16.95H289.25V19.3H286.15V16.95H283.8V13.85H286.15Z" fill="#ff0000"/>
<text x="310.5" y="17.4" font-size="6.6" text-anchor="middle" class="lg">2.5 <tspan class="mu">µ</tspan>m</text>
<rect x="330.42" y="11.93" width="6.95" height="6.95" fill="none" stroke="#3535ff" stroke-width="0.85"/>
<text x="355.9" y="17.4" font-size="6.6" text-anchor="middle" class="lg">5 <tspan class="mu">µ</tspan>m</text>
<rect x="233.9" y="19.85" width="7.9" height="7.9" fill="#ff00ff"/>
<text x="262.8" y="25.8" font-size="6.6" text-anchor="middle" class="lg">10 <tspan class="mu">µ</tspan>m</text>
<path d="M287.7,20L291.6,27.6L283.8,27.6Z" fill="#3fc53f"/>
<text x="310.5" y="25.8" font-size="6.6" text-anchor="middle" class="lg">25 <tspan class="mu">µ</tspan>m</text>
<path d="M330,20L337.8,20L333.9,27.6Z" fill="#000000"/>
<text x="355.9" y="25.8" font-size="6.6" text-anchor="middle" class="lg">50 <tspan class="mu">µ</tspan>m</text>
<path d="M237.85,28.6L240.65,32.4L237.85,36.2L235.05,32.4Z" fill="#ff0000"/>
<text x="262.8" y="34.4" font-size="6.6" text-anchor="middle" class="lg">100 <tspan class="mu">µ</tspan>m</text>
<circle cx="435.4" cy="18.7" r="3.9" fill="#000000"/>
<text x="458.9" y="21.4" font-size="6.6" text-anchor="middle" class="lg">1 <tspan class="mu">µ</tspan>m</text>
<path d="M480.65,14.8H483.75V17.15H486.1V20.25H483.75V22.6H480.65V20.25H478.3V17.15H480.65Z" fill="#ff0000"/>
<text x="503.7" y="21.4" font-size="6.6" text-anchor="middle" class="lg">2.5 <tspan class="mu">µ</tspan>m</text>
<rect x="522.52" y="15.22" width="6.95" height="6.95" fill="none" stroke="#3535ff" stroke-width="0.85"/>
<text x="546.3" y="21.4" font-size="6.6" text-anchor="middle" class="lg">5 <tspan class="mu">µ</tspan>m</text>
<rect x="431.45" y="26.65" width="7.9" height="7.9" fill="#ff00ff"/>
<text x="458.9" y="33.3" font-size="6.6" text-anchor="middle" class="lg">10 <tspan class="mu">µ</tspan>m</text>
<path d="M482.2,26.8L486.1,34.4L478.3,34.4Z" fill="#3fc53f"/>
<text x="503.7" y="33.3" font-size="6.6" text-anchor="middle" class="lg">25 <tspan class="mu">µ</tspan>m</text>
<path d="M522.1,26.8L529.9,26.8L526,34.4Z" fill="#000000"/>
<text x="546.3" y="33.3" font-size="6.6" text-anchor="middle" class="lg">50 <tspan class="mu">µ</tspan>m</text>
<path d="M435.4,38.7L438.2,42.5L435.4,46.3L432.6,42.5Z" fill="#ff0000"/>
<text x="458.9" y="45.2" font-size="6.6" text-anchor="middle" class="lg">100 <tspan class="mu">µ</tspan>m</text>
<text x="113.4" y="5.6" font-size="8.3" text-anchor="middle" >H</text>
<text x="311.2" y="5.6" font-size="8.3" text-anchor="middle" >He</text>
<text x="509.9" y="5.9" font-size="8.3" text-anchor="middle" >C</text>
<g transform="translate(8.9,113.6) rotate(-90)">
<text x="0" y="0" font-size="8.4" style="stroke-width:0.1px"><tspan font-size="9.6">y</tspan><tspan font-size="6.6" dy="3.0">D</tspan><tspan dy="-3.0">(keV/ <tspan class="mu">µ</tspan>m)</tspan></text>
<line x1="0.2" y1="-6.6" x2="5.0" y2="-6.6" stroke="#000" stroke-width="0.8"/>
</g>
<text transform="translate(6.9,211.6) rotate(-90)" x="0" y="0" font-size="8.6" text-anchor="middle" style="stroke-width:0.2px">PD <tspan style="stroke-width:0;fill:#444">(%)</tspan></text>
</svg></body></html>
